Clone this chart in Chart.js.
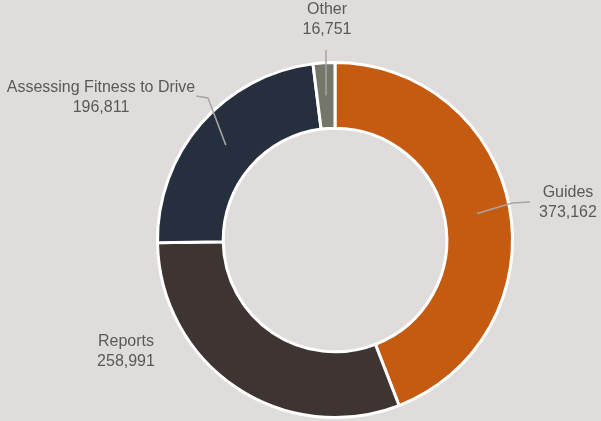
<!DOCTYPE html>
<html>
<head>
<meta charset="utf-8">
<script src="https://cdn.jsdelivr.net/npm/chart.js@4"></script>
<style>
  html, body { margin: 0; padding: 0; background: #E0DCDB; }
  #wrap { width: 601px; height: 421px; }
</style>
</head>
<body>
<div id="wrap"><canvas id="donut" width="601" height="421"></canvas></div>
<script>
const categories = ['Guides', 'Reports', 'Assessing Fitness to Drive', 'Other'];
const counts = [373162, 258991, 196811, 16751];
const colours = ['#C55A11', '#3E3533', '#262F3D', '#75766A'];

// where each label sits, and the elbow of its leader line (null = no line)
const labelPos = [
  { x: 568, y: 193, elbow: [530, 202, 512, 203] },
  { x: 126, y: 342, elbow: null },
  { x: 101, y: 88, elbow: [196, 96, 208, 98] },
  { x: 327, y: 10, elbow: [326, 50, 326, 50] }
];

const calloutLabels = {
  id: 'calloutLabels',
  afterDatasetsDraw(chart) {
    const ctx = chart.ctx;
    const meta = chart.getDatasetMeta(0);
    ctx.save();
    meta.data.forEach((arc, i) => {
      const p = labelPos[i];
      const mid = (arc.startAngle + arc.endAngle) / 2;
      const r = (arc.innerRadius + arc.outerRadius) / 2;
      const ax = arc.x + Math.cos(mid) * r;
      const ay = arc.y + Math.sin(mid) * r;
      if (p.elbow) {
        ctx.strokeStyle = '#A6A6A6';
        ctx.lineWidth = 1.5;
        ctx.beginPath();
        ctx.moveTo(p.elbow[0], p.elbow[1]);
        ctx.lineTo(p.elbow[2], p.elbow[3]);
        ctx.lineTo(ax, ay);
        ctx.stroke();
      }
      ctx.fillStyle = '#595959';
      ctx.font = '16px "Liberation Sans", Arial, sans-serif';
      ctx.textAlign = 'center';
      ctx.textBaseline = 'middle';
      ctx.fillText(categories[i], p.x, p.y);
      ctx.fillText(counts[i].toLocaleString('en-US'), p.x, p.y + 20);
    });
    ctx.restore();
  }
};

new Chart(document.getElementById('donut').getContext('2d'), {
  type: 'doughnut',
  data: {
    labels: categories,
    datasets: [{
      data: counts,
      backgroundColor: colours,
      borderColor: '#FFFFFF',
      borderWidth: 3
    }]
  },
  options: {
    responsive: false,
    animation: false,
    cutout: '63%',
    layout: { padding: { left: 156, right: 87, top: 61, bottom: 2 } },
    plugins: {
      legend: { display: false },
      tooltip: { enabled: false }
    }
  },
  plugins: [calloutLabels]
});
</script>
</body>
</html>
